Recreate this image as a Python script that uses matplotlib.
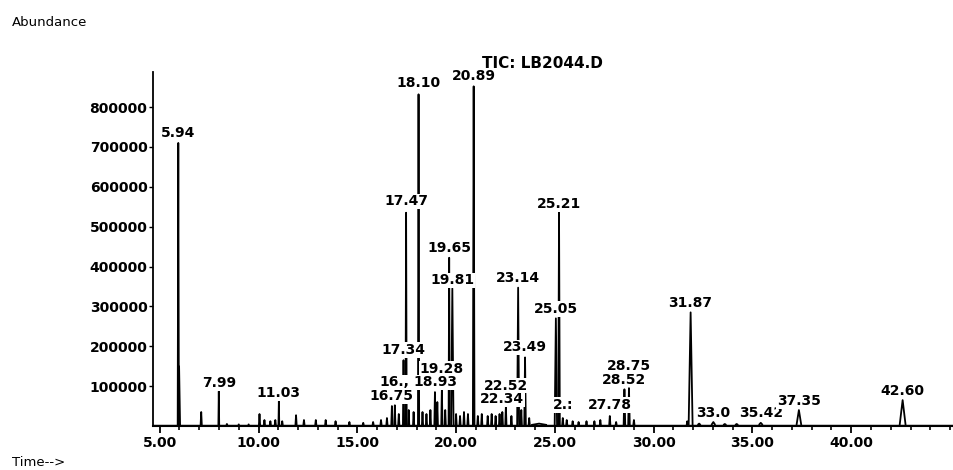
import matplotlib.pyplot as plt
from matplotlib.collections import LineCollection
from matplotlib.ticker import MultipleLocator

# Peaks of the total ion chromatogram: retention time (min), abundance, half width (min)
peak_times = [5.94, 5.98, 7.10, 7.99, 8.40, 9.00, 9.50, 10.05, 10.30, 10.60, 10.85,
              11.03, 11.20, 11.90, 12.30, 12.90, 13.40, 13.90, 14.60, 15.30, 15.80,
              16.20, 16.50, 16.75, 16.90, 17.10, 17.34, 17.47, 17.60, 17.85, 18.10,
              18.30, 18.50, 18.70, 18.93, 19.05, 19.28, 19.45, 19.65, 19.81, 20.00,
              20.20, 20.40, 20.60, 20.89, 21.10, 21.30, 21.60, 21.80, 22.00, 22.20,
              22.34, 22.52, 22.80, 23.14, 23.30, 23.49, 23.70, 24.20, 25.05, 25.21,
              25.40, 25.60, 25.90, 26.20, 26.60, 27.00, 27.30, 27.78, 28.10, 28.52,
              28.75, 29.00, 31.70, 31.87, 32.30, 33.02, 33.60, 34.20, 35.42, 37.35,
              42.60]
peak_heights = [710000, 150000, 35000, 87000, 5000, 4000, 4000, 30000, 15000, 12000, 15000,
                62000, 12000, 27000, 15000, 15000, 15000, 12000, 10000, 8000, 10000,
                15000, 20000, 50000, 52000, 30000, 165000, 535000, 40000, 35000, 832000,
                35000, 30000, 40000, 85000, 60000, 95000, 40000, 422000, 345000, 30000,
                25000, 35000, 30000, 852000, 25000, 30000, 25000, 30000, 25000, 30000,
                35000, 50000, 25000, 347000, 40000, 172000, 20000, 6000, 270000, 535000,
                20000, 15000, 12000, 10000, 12000, 12000, 15000, 25000, 10000, 92000,
                95000, 15000, 12000, 285000, 6000, 10000, 5000, 5000, 8000, 40000,
                65000]
peak_widths = [0.03, 0.05, 0.03, 0.02, 0.03, 0.03, 0.03, 0.03, 0.03, 0.03, 0.03,
               0.02, 0.03, 0.03, 0.03, 0.03, 0.03, 0.03, 0.03, 0.03, 0.03,
               0.03, 0.03, 0.03, 0.03, 0.03, 0.03, 0.03, 0.03, 0.03, 0.03,
               0.03, 0.03, 0.03, 0.03, 0.03, 0.03, 0.03, 0.03, 0.06, 0.03,
               0.03, 0.03, 0.03, 0.04, 0.03, 0.03, 0.03, 0.03, 0.03, 0.03,
               0.03, 0.03, 0.03, 0.05, 0.03, 0.04, 0.03, 0.40, 0.06, 0.04,
               0.03, 0.03, 0.03, 0.03, 0.03, 0.03, 0.03, 0.03, 0.03, 0.04,
               0.04, 0.03, 0.03, 0.10, 0.08, 0.10, 0.08, 0.08, 0.10, 0.12,
               0.15]

# Annotated retention times and the text printed above them
label_times = [5.94, 7.99, 11.03, 16.75, 16.90, 17.34, 17.47, 18.10, 18.93, 19.28,
               19.65, 19.81, 20.89, 22.34, 22.52, 23.14, 23.49, 25.05, 25.21, 25.40,
               27.78, 28.52, 28.75, 31.87, 33.02, 35.42, 37.35, 42.60]
label_texts = ['5.94', '7.99', '11.03', '16.75', '16.,', '17.34', '17.47', '18.10', '18.93', '19.28',
               '19.65', '19.81', '20.89', '22.34', '22.52', '23.14', '23.49', '25.05', '25.21', '2.:',
               '27.78', '28.52', '28.75', '31.87', '33.0', '35.42', '37.35', '42.60']
# vertical placement of each label (bottom of text, abundance units)
label_y = [717000, 90000, 65000, 58000, 92000, 173000, 546000, 843000, 92000, 126000,
           429000, 348000, 860000, 50000, 84000, 354000, 180000, 276000, 539000, 35000,
           35000, 99000, 134000, 290000, 15000, 15000, 45000, 70000]

y_ticks = [100000, 200000, 300000, 400000, 500000, 600000, 700000, 800000]
x_ticks = [5, 10, 15, 20, 25, 30, 35, 40]

base = 2500
font = dict(family='DejaVu Sans', weight='bold', size=10)

fig = plt.figure(figsize=(9.54, 4.70), dpi=100)
ax = fig.add_axes([153 / 954, 44 / 470, 801 / 954, 354 / 470])

# baseline and peaks
ax.plot([4.66, 45.2], [base, base], color='black', lw=1.0)
segs = [[(t - w, base), (t, h), (t + w, base)]
        for t, h, w in zip(peak_times, peak_heights, peak_widths)]
ax.add_collection(LineCollection(segs, colors='black', linewidths=1.3))

for t, s, y in zip(label_times, label_texts, label_y):
    ax.text(t, y, s, ha='center', va='bottom', zorder=5, **font,
            bbox=dict(boxstyle='square,pad=0.05', fc='white', ec='none'))

ax.set_xlim(4.66, 45.2)
ax.set_ylim(0, 888000)
for side in ['top', 'right']:
    ax.spines[side].set_visible(False)
ax.spines['left'].set_linewidth(1.3)
ax.spines['bottom'].set_linewidth(1.5)

ax.set_yticks(y_ticks)
ax.set_yticklabels([str(v) for v in y_ticks], **font)
ax.set_xticks(x_ticks)
ax.set_xticklabels([f'{v:.2f}' for v in x_ticks], **font)
ax.xaxis.set_minor_locator(MultipleLocator(1))
ax.tick_params(axis='y', length=3, width=1, pad=1)
ax.tick_params(axis='x', which='major', length=5, width=1.3, pad=2)
ax.tick_params(axis='x', which='minor', length=3, width=1.2)

fig.text(482 / 954, 1 - 68 / 470, 'TIC: LB2044.D', ha='left', va='baseline',
         family='DejaVu Sans', weight='bold', size=11)
fig.text(12 / 954, 1 - 22 / 470, 'Abundance', ha='left', va='center',
         family='DejaVu Sans', size=9.5)
fig.text(12 / 954, 1 - 462 / 470, 'Time-->', ha='left', va='center',
         family='DejaVu Sans', size=9.5)

fig.savefig('out.png', dpi=100)
